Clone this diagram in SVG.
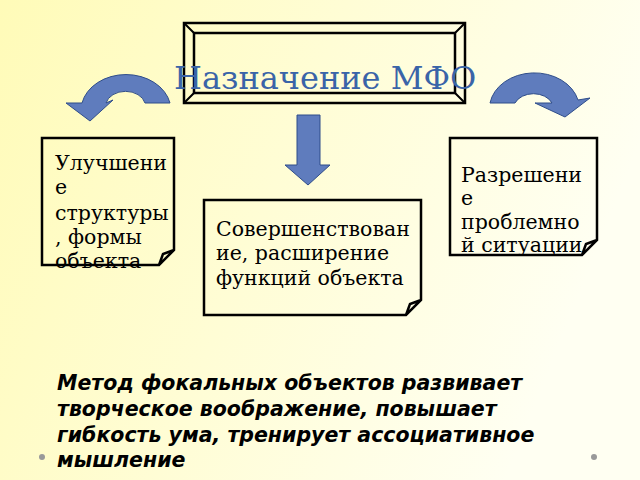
<svg xmlns="http://www.w3.org/2000/svg" width="640" height="480" viewBox="0 0 640 480">
<defs>
<linearGradient id="bg" x1="0" y1="0" x2="1" y2="0.3"><stop offset="0" stop-color="#fffbb8"/><stop offset="1" stop-color="#fffff2"/></linearGradient>
<style>
.box{fill:none;stroke:#000;stroke-width:2.5}
.arr{fill:#5f7cbd;stroke:#2f4d8a;stroke-width:1}
.t{font-family:"DejaVu Serif",serif;font-size:20.5px;fill:#000}
.b{font-family:"DejaVu Sans",sans-serif;font-size:20.5px;font-weight:bold;font-style:italic;fill:#000}
</style>
</defs>
<rect width="640" height="480" fill="url(#bg)"/>
<g id="title">
<rect x="184" y="23" width="281" height="80" fill="none" stroke="#000" stroke-width="2.5"/>
<rect x="194" y="33" width="261" height="60" fill="none" stroke="#000" stroke-width="2.5"/>
<path d="M184,23 L194,33 M465,23 L455,33 M184,103 L194,93 M465,103 L455,93" stroke="#000" stroke-width="2"/>
<text x="174" y="89" font-family="DejaVu Serif,serif" font-size="32" fill="#3a64a8">Назначение МФО</text>
</g>
<g id="connectors">
<path class="arr" d="M170,103 A45,36 0 0 0 82,103 L66,103 L90,121 L113,100 L106,103 A20,15 0 0 1 145,103 Z"/>
<path class="arr" d="M490,103 A45,36 0 0 1 578,100 L590,98 L565,117 L535,103 L552,103 A20,15 0 0 0 515,103 Z"/>
<path class="arr" d="M297,115 H320 V165 H330 L308,185 L285,165 H297 Z"/>
</g>
<g id="n1">
<path class="box" d="M42,138 H174 V250 L159,265 H42 Z M159,265 L163,254 L174,250"/>
<text class="t" x="55" y="170">Улучшени</text>
<text class="t" x="55" y="194">е</text>
<text class="t" x="55" y="220">структуры</text>
<text class="t" x="55" y="244">, формы</text>
<text class="t" x="55" y="268">объекта</text>
</g>
<g id="n2">
<path class="box" d="M204,200 H421 V300 L406,315 H204 Z M406,315 L410,304 L421,300"/>
<text class="t" x="216" y="236">Совершенствован</text>
<text class="t" x="216" y="260">ие, расширение</text>
<text class="t" x="216" y="285">функций объекта</text>
</g>
<g id="n3">
<path class="box" d="M450,138 H597 V240 L582,255 H450 Z M582,255 L586,244 L597,240"/>
<text class="t" x="461" y="182">Разрешени</text>
<text class="t" x="461" y="205">е</text>
<text class="t" x="461" y="229">проблемно</text>
<text class="t" x="461" y="252">й ситуации</text>
</g>
<g id="note">
<text class="b" x="57" y="390">Метод фокальных объектов развивает</text>
<text class="b" x="57" y="416">творческое воображение, повышает</text>
<text class="b" x="57" y="442">гибкость ума, тренирует ассоциативное</text>
<text class="b" x="57" y="467">мышление</text>
</g>
<circle cx="42" cy="457" r="3" fill="#999"/>
<circle cx="594" cy="457" r="3" fill="#999"/>
</svg>
